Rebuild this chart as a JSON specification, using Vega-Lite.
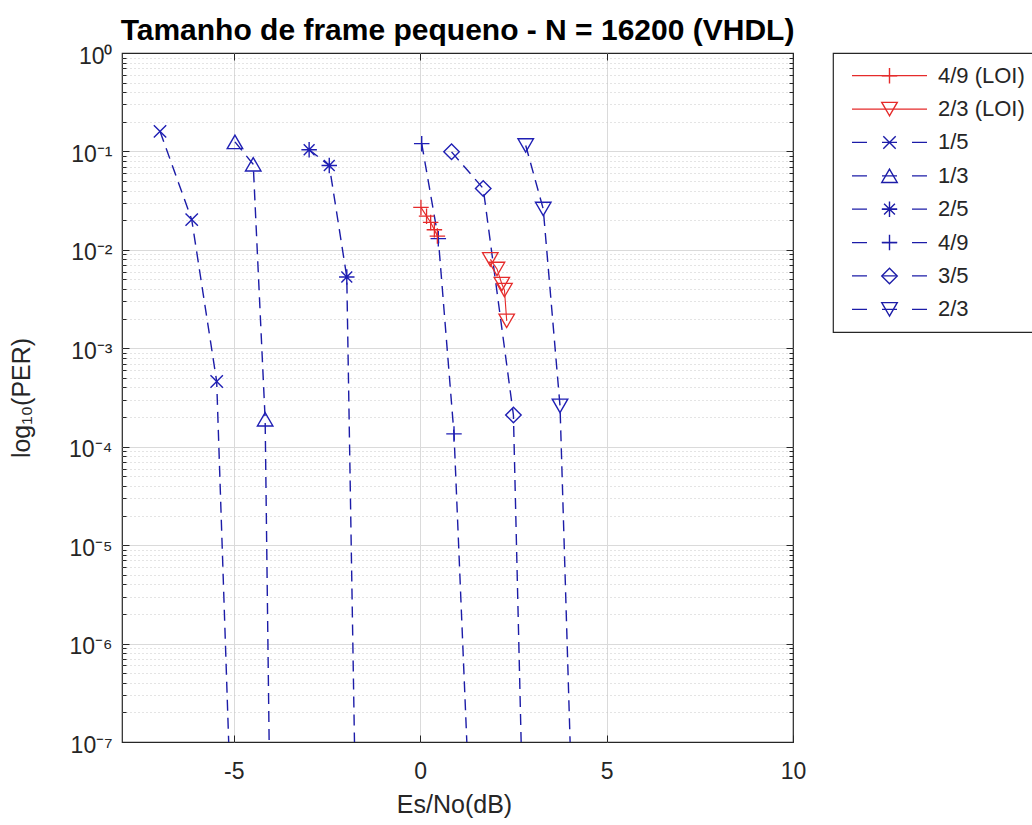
{
  "$schema": "https://vega.github.io/schema/vega-lite/v6.json",
  "autosize": {"type": "none"},
  "padding": {"left": 122, "top": 53, "right": 910, "bottom": 772},
  "background": "white",
  "bounds": "flush",
  "spacing": 40,
  "datasets": {
    "blue": [
      {"s": "1/5", "x": -6.98, "y": 0.16},
      {"s": "1/5", "x": -6.13, "y": 0.0203},
      {"s": "1/5", "x": -5.46, "y": 0.00046},
      {"s": "1/5", "x": -5.05, "y": 1e-8},
      {"s": "1/3", "x": -4.97, "y": 0.125},
      {"s": "1/3", "x": -4.48, "y": 0.074},
      {"s": "1/3", "x": -4.16, "y": 0.00019},
      {"s": "1/3", "x": -4.02, "y": 1e-8},
      {"s": "2/5", "x": -2.98, "y": 0.104},
      {"s": "2/5", "x": -2.44, "y": 0.072},
      {"s": "2/5", "x": -1.97, "y": 0.0053},
      {"s": "2/5", "x": -1.72, "y": 1e-8},
      {"s": "4/9", "x": 0.04, "y": 0.12},
      {"s": "4/9", "x": 0.485, "y": 0.013},
      {"s": "4/9", "x": 0.906, "y": 0.000135},
      {"s": "4/9", "x": 1.36, "y": 1e-8},
      {"s": "3/5", "x": 0.84, "y": 0.099},
      {"s": "3/5", "x": 1.69, "y": 0.042},
      {"s": "3/5", "x": 2.5, "y": 0.00021},
      {"s": "3/5", "x": 2.77, "y": 1e-8},
      {"s": "2/3", "x": 2.83, "y": 0.115},
      {"s": "2/3", "x": 3.3, "y": 0.026},
      {"s": "2/3", "x": 3.75, "y": 0.00026},
      {"s": "2/3", "x": 4.1, "y": 1e-8}
    ],
    "red": [
      {"s": "4/9 (LOI)", "x": 0.02, "y": 0.027},
      {"s": "4/9 (LOI)", "x": 0.17, "y": 0.022},
      {"s": "4/9 (LOI)", "x": 0.28, "y": 0.019},
      {"s": "4/9 (LOI)", "x": 0.38, "y": 0.016},
      {"s": "4/9 (LOI)", "x": 0.46, "y": 0.0138},
      {"s": "2/3 (LOI)", "x": 1.88, "y": 0.008},
      {"s": "2/3 (LOI)", "x": 2.06, "y": 0.0064},
      {"s": "2/3 (LOI)", "x": 2.19, "y": 0.0045},
      {"s": "2/3 (LOI)", "x": 2.26, "y": 0.0039},
      {"s": "2/3 (LOI)", "x": 2.32, "y": 0.0019}
    ],
    "legend": [
      {"s": "4/9 (LOI)"},
      {"s": "2/3 (LOI)"},
      {"s": "1/5"},
      {"s": "1/3"},
      {"s": "2/5"},
      {"s": "4/9"},
      {"s": "3/5"},
      {"s": "2/3"}
    ]
  },
  "hconcat": [
    {
      "width": 671,
      "height": 689,
      "title": {
        "text": "Tamanho de frame pequeno - N = 16200 (VHDL)",
        "fontSize": 30,
        "fontWeight": "bold",
        "font": "Liberation Sans",
        "color": "#000000",
        "anchor": "middle",
        "frame": "group",
        "baseline": "alphabetic",
        "offset": -25
      },
      "layer": [
        {
          "data": {"name": "blue"},
          "mark": {"type": "line", "clip": true, "color": "#1c1ca8", "strokeWidth": 1.4, "strokeDash": [11, 7]},
          "encoding": {
            "x": {
              "field": "x", "type": "quantitative",
              "scale": {"domain": [-8, 10], "nice": false, "zero": false},
              "axis": {
                "orient": "bottom", "values": [-5, 0, 5, 10], "tickSize": -7,
                "labelFontSize": 23, "labelPadding": 25,
                "labelExpr": "datum.value < 0 ? '-' + abs(datum.value) : '' + datum.value",
                "grid": true,
                "gridOpacity": {"condition": {"test": "datum.value == 10", "value": 0}, "value": 1},
                "title": "Es/No(dB)", "titleFontSize": 25, "titleX": 332, "titleY": 70,
                "titleBaseline": "alphabetic"
              }
            },
            "y": {
              "field": "y", "type": "quantitative",
              "scale": {"type": "log", "domain": [1e-7, 1], "nice": false},
              "axis": {
                "orient": "left",
                "values": [1e-7, 1e-6, 1e-5, 1e-4, 1e-3, 1e-2, 1e-1, 1],
                "tickSize": -7, "labelFontSize": 23, "labelPadding": 17, "labelOffset": 3,
                "labelBaseline": "middle",
                "labelExpr": "'10' + (round(log(datum.value)/LN10) == 0 ? '⁰' : '⁻' + substring('⁰¹²³⁴⁵⁶⁷', -round(log(datum.value)/LN10), -round(log(datum.value)/LN10) + 1))",
                "grid": true,
                "gridOpacity": {"condition": {"test": "datum.value > 0.5 || datum.value < 2e-7", "value": 0}, "value": 1},
                "title": "log₁₀(PER)", "titleFontSize": 25, "titleX": -93, "titleY": 344.5,
                "titleBaseline": "alphabetic", "titleAngle": 270
              }
            },
            "detail": {"field": "s", "type": "nominal"}
          }
        },
        {
          "data": {"name": "red"},
          "mark": {"type": "line", "clip": true, "color": "#e52b2b", "strokeWidth": 1.1},
          "encoding": {
            "x": {
              "field": "x", "type": "quantitative",
              "scale": {"domain": [-8, 10], "nice": false, "zero": false},
              "axis": {"orient": "top", "values": [-5, 0, 5, 10], "tickSize": -7, "labels": false, "grid": false, "title": null}
            },
            "y": {
              "field": "y", "type": "quantitative",
              "scale": {"type": "log", "domain": [1e-7, 1], "nice": false},
              "axis": {
                "orient": "left",
                "values": [2e-7,3e-7,4e-7,5e-7,6e-7,7e-7,8e-7,9e-7,2e-6,3e-6,4e-6,5e-6,6e-6,7e-6,8e-6,9e-6,2e-5,3e-5,4e-5,5e-5,6e-5,7e-5,8e-5,9e-5,2e-4,3e-4,4e-4,5e-4,6e-4,7e-4,8e-4,9e-4,0.002,0.003,0.004,0.005,0.006,0.007,0.008,0.009,0.02,0.03,0.04,0.05,0.06,0.07,0.08,0.09,0.2,0.3,0.4,0.5,0.6,0.7,0.8,0.9],
                "tickSize": -4, "labels": false, "grid": true, "gridDash": [1, 3], "gridColor": "#c8c8c8", "title": null
              }
            },
            "detail": {"field": "s", "type": "nominal"}
          }
        },
        {
          "data": {"name": "blue"},
          "mark": {"type": "point", "clip": true, "filled": false, "color": "#1f1fb4", "strokeWidth": 1.4, "size": 240, "opacity": 1},
          "encoding": {
            "x": {"field": "x", "type": "quantitative", "scale": {"domain": [-8, 10], "nice": false, "zero": false}, "axis": null},
            "y": {
              "field": "y", "type": "quantitative",
              "scale": {"type": "log", "domain": [1e-7, 1], "nice": false},
              "axis": {"orient": "right", "values": [1e-7, 1e-6, 1e-5, 1e-4, 1e-3, 1e-2, 1e-1, 1], "tickSize": -7, "labels": false, "grid": false, "title": null}
            },
            "shape": {
              "field": "s", "type": "nominal", "legend": null,
              "scale": {
                "domain": ["4/9 (LOI)", "2/3 (LOI)", "1/5", "1/3", "2/5", "4/9", "3/5", "2/3"],
                "range": ["M-1,0L1,0M0,-1L0,1", "triangle-down", "M-0.8,-0.8L0.8,0.8M-0.8,0.8L0.8,-0.8", "triangle-up", "M-1,0L1,0M0,-1L0,1M-0.7,-0.7L0.7,0.7M-0.7,0.7L0.7,-0.7", "M-1,0L1,0M0,-1L0,1", "diamond", "triangle-down"]
              }
            }
          }
        },
        {
          "data": {"name": "red"},
          "mark": {"type": "point", "clip": true, "filled": false, "color": "#e52b2b", "strokeWidth": 1.3, "size": 240, "opacity": 1},
          "encoding": {
            "x": {"field": "x", "type": "quantitative", "scale": {"domain": [-8, 10], "nice": false, "zero": false}, "axis": null},
            "y": {
              "field": "y", "type": "quantitative",
              "scale": {"type": "log", "domain": [1e-7, 1], "nice": false},
              "axis": {
                "orient": "right",
                "values": [2e-7,3e-7,4e-7,5e-7,6e-7,7e-7,8e-7,9e-7,2e-6,3e-6,4e-6,5e-6,6e-6,7e-6,8e-6,9e-6,2e-5,3e-5,4e-5,5e-5,6e-5,7e-5,8e-5,9e-5,2e-4,3e-4,4e-4,5e-4,6e-4,7e-4,8e-4,9e-4,0.002,0.003,0.004,0.005,0.006,0.007,0.008,0.009,0.02,0.03,0.04,0.05,0.06,0.07,0.08,0.09,0.2,0.3,0.4,0.5,0.6,0.7,0.8,0.9],
                "tickSize": -4, "labels": false, "grid": false, "title": null
              }
            },
            "shape": {
              "field": "s", "type": "nominal", "legend": null,
              "scale": {
                "domain": ["4/9 (LOI)", "2/3 (LOI)", "1/5", "1/3", "2/5", "4/9", "3/5", "2/3"],
                "range": ["M-1,0L1,0M0,-1L0,1", "triangle-down", "M-0.8,-0.8L0.8,0.8M-0.8,0.8L0.8,-0.8", "triangle-up", "M-1,0L1,0M0,-1L0,1M-0.7,-0.7L0.7,0.7M-0.7,0.7L0.7,-0.7", "M-1,0L1,0M0,-1L0,1", "diamond", "triangle-down"]
              }
            }
          }
        }
      ],
      "resolve": {"axis": {"x": "independent", "y": "independent"}}
    },
    {
      "width": 200,
      "height": 279,
      "data": {"name": "legend"},
      "encoding": {
        "y": {
          "field": "s", "type": "nominal", "axis": null,
          "scale": {"type": "point", "domain": ["4/9 (LOI)", "2/3 (LOI)", "1/5", "1/3", "2/5", "4/9", "3/5", "2/3"], "padding": 0.68}
        }
      },
      "layer": [
        {
          "mark": {"type": "rule", "strokeWidth": 1.2},
          "encoding": {
            "x": {"datum": 19, "type": "quantitative", "scale": {"domain": [0, 200], "nice": false, "zero": false}, "axis": null},
            "x2": {"datum": 94},
            "color": {
              "field": "s", "type": "nominal", "legend": null,
              "scale": {"domain": ["4/9 (LOI)", "2/3 (LOI)", "1/5", "1/3", "2/5", "4/9", "3/5", "2/3"], "range": ["#e52b2b", "#e52b2b", "#1c1ca8", "#1c1ca8", "#1c1ca8", "#1c1ca8", "#1c1ca8", "#1c1ca8"]}
            },
            "strokeDash": {
              "field": "s", "type": "nominal", "legend": null,
              "scale": {"domain": ["4/9 (LOI)", "2/3 (LOI)", "1/5", "1/3", "2/5", "4/9", "3/5", "2/3"], "range": [[1, 0], [1, 0], [15, 15], [15, 15], [15, 15], [15, 15], [15, 15], [15, 15]]}
            }
          }
        },
        {
          "mark": {"type": "point", "filled": false, "size": 240, "strokeWidth": 1.4, "opacity": 1},
          "encoding": {
            "x": {"datum": 56.5, "type": "quantitative", "scale": {"domain": [0, 200], "nice": false, "zero": false}, "axis": null},
            "color": {
              "field": "s", "type": "nominal", "legend": null,
              "scale": {"domain": ["4/9 (LOI)", "2/3 (LOI)", "1/5", "1/3", "2/5", "4/9", "3/5", "2/3"], "range": ["#e52b2b", "#e52b2b", "#1f1fb4", "#1f1fb4", "#1f1fb4", "#1f1fb4", "#1f1fb4", "#1f1fb4"]}
            },
            "shape": {
              "field": "s", "type": "nominal", "legend": null,
              "scale": {
                "domain": ["4/9 (LOI)", "2/3 (LOI)", "1/5", "1/3", "2/5", "4/9", "3/5", "2/3"],
                "range": ["M-1,0L1,0M0,-1L0,1", "triangle-down", "M-0.8,-0.8L0.8,0.8M-0.8,0.8L0.8,-0.8", "triangle-up", "M-1,0L1,0M0,-1L0,1M-0.7,-0.7L0.7,0.7M-0.7,0.7L0.7,-0.7", "M-1,0L1,0M0,-1L0,1", "diamond", "triangle-down"]
              }
            }
          }
        },
        {
          "mark": {"type": "text", "align": "left", "baseline": "middle", "fontSize": 22, "font": "Liberation Sans", "color": "#262626"},
          "encoding": {
            "x": {"datum": 105, "type": "quantitative", "scale": {"domain": [0, 200], "nice": false, "zero": false}, "axis": null},
            "text": {"field": "s", "type": "nominal"}
          }
        }
      ]
    }
  ],
  "config": {
    "font": "Liberation Sans",
    "view": {"stroke": "#262626", "strokeWidth": 1.2},
    "axis": {
      "domain": false,
      "tickColor": "#262626",
      "tickWidth": 1,
      "labelColor": "#262626",
      "titleColor": "#262626",
      "labelFont": "Liberation Sans",
      "titleFont": "Liberation Sans",
      "titleFontWeight": "normal",
      "labelFlush": false,
      "labelOverlap": false,
      "gridColor": "#dadada",
      "gridWidth": 1
    }
  }
}
